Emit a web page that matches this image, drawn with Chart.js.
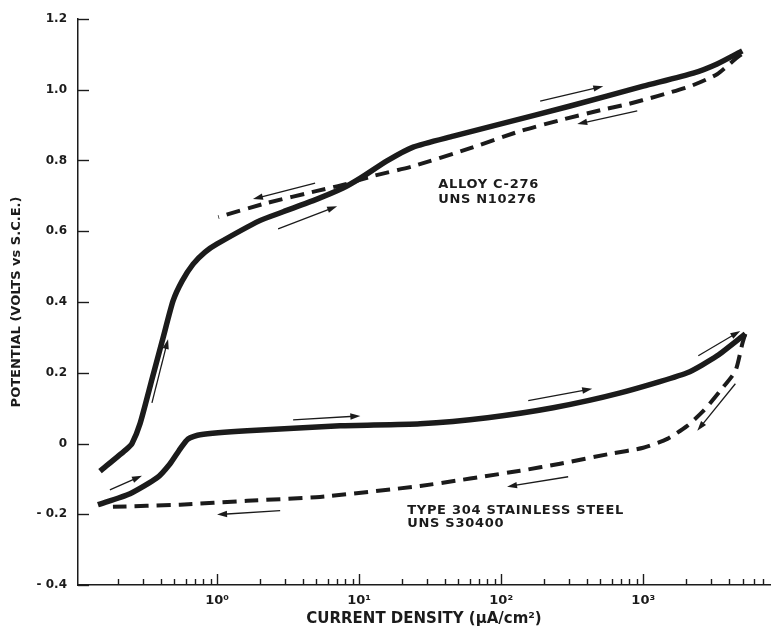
<!DOCTYPE html>
<html>
<head>
<meta charset="utf-8">
<script src="https://cdn.jsdelivr.net/npm/chart.js@4/dist/chart.umd.min.js"></script>
<style>
  body { margin: 0; background: #ffffff; }
  #wrap { width: 779px; height: 628px; }
</style>
</head>
<body>
<div id="wrap"><canvas id="chart_polar" width="779" height="628"></canvas></div>
<script>
// ---- data (current density uA/cm2, potential V vs SCE) ----
var alloyFwdX = [0.150, 0.232, 0.252, 0.287, 0.349, 0.417, 0.49, 0.567, 0.678, 0.823, 1.0, 2.0, 2.92, 5.0, 7.7, 10.2, 15.7, 24, 46, 98, 306, 1000, 2250, 3310, 4980];
var alloyFwdY = [-0.078, -0.015, 0.0, 0.056, 0.183, 0.299, 0.403, 0.459, 0.507, 0.541, 0.564, 0.63, 0.655, 0.69, 0.722, 0.75, 0.799, 0.838, 0.869, 0.903, 0.954, 1.01, 1.047, 1.073, 1.11];

var alloyRevX = [4900, 4450, 3310, 2143, 1256, 771, 498, 260, 136, 57.7, 24, 12.5, 8.2, 5.06, 2.25, 1.02];
var alloyRevY = [1.10, 1.087, 1.044, 1.01, 0.982, 0.959, 0.942, 0.914, 0.883, 0.832, 0.784, 0.756, 0.734, 0.714, 0.68, 0.64];

var steelFwdX = [0.145, 0.244, 0.378, 0.467, 0.55, 0.625, 0.76, 1.63, 7.35, 26.9, 80, 232, 689, 2040, 3310, 5230];
var steelFwdY = [-0.173, -0.142, -0.097, -0.057, -0.015, 0.013, 0.025, 0.036, 0.05, 0.056, 0.073, 0.101, 0.143, 0.2, 0.248, 0.31];

var steelRevX = [5230, 4980, 4450, 3480, 2650, 2040, 1476, 1000, 586, 260, 136, 26.9, 5.3, 1.63, 0.55, 0.185];
var steelRevY = [0.31, 0.282, 0.205, 0.149, 0.092, 0.05, 0.013, -0.012, -0.029, -0.057, -0.077, -0.12, -0.151, -0.162, -0.173, -0.179];

// scan direction arrows: tail and head, in data units
var arrowTails = [[0.348, 0.115], [0.176, -0.131], [2.69, 0.607], [4.9, 0.736], [188, 0.968], [907, 0.940],
                  [3.43, 0.067], [155, 0.121], [2440, 0.248], [4450, 0.169], [296, -0.094], [2.78, -0.19]];
var arrowHeads = [[0.452, 0.295], [0.296, -0.091], [7.0, 0.671], [1.79, 0.691], [523, 1.01], [343, 0.903],
                  [10.2, 0.078], [437, 0.155], [4820, 0.318], [2400, 0.036], [110, -0.122], [1.0, -0.201]];

var curveNotes = [
    { x: 36, y: 0.731, text: "ALLOY C-276" },
    { x: 36, y: 0.690, text: "UNS N10276" },
    { x: 21.8, y: -0.190, text: "TYPE 304 STAINLESS STEEL" },
    { x: 21.8, y: -0.227, text: "UNS S30400" }
];

var yTickValues = [-0.4, -0.2, 0, 0.2, 0.4, 0.6, 0.8, 1.0, 1.2];
var xDecadeLabels = { 1: "10\u2070", 10: "10\u00b9", 100: "10\u00b2", 1000: "10\u00b3" };

var InkColor = "#1b1b1b";

function toPoints(xs, ys) {
    var pts = [];
    for (var i = 0; i < xs.length; i++) { pts.push({ x: xs[i], y: ys[i] }); }
    return pts;
}

function drawArrow(ctx, x1, y1, x2, y2) {
    var a = Math.atan2(y2 - y1, x2 - x1);
    ctx.beginPath();
    ctx.moveTo(x1, y1);
    ctx.lineTo(x2 - 6 * Math.cos(a), y2 - 6 * Math.sin(a));
    ctx.stroke();
    ctx.beginPath();
    ctx.moveTo(x2, y2);
    ctx.lineTo(x2 - 10 * Math.cos(a) + 3.2 * Math.sin(a), y2 - 10 * Math.sin(a) - 3.2 * Math.cos(a));
    ctx.lineTo(x2 - 10 * Math.cos(a) - 3.2 * Math.sin(a), y2 - 10 * Math.sin(a) + 3.2 * Math.cos(a));
    ctx.closePath();
    ctx.fill();
}

// inward tick marks, arrows and curve names
var overlayPlugin = {
    id: "overlay",
    afterDraw: function (chart) {
        var ctx = chart.ctx, xs = chart.scales.x, ys = chart.scales.y, area = chart.chartArea;
        ctx.save();
        ctx.strokeStyle = InkColor;
        ctx.fillStyle = InkColor;
        ctx.lineWidth = 1.4;
        // x ticks (log decades)
        for (var e = -1; e <= 3; e++) {
            for (var m = 1; m <= 9; m++) {
                var v = m * Math.pow(10, e);
                if (v <= xs.min * 1.01 || v >= xs.max) { continue; }
                var px = Math.round(xs.getPixelForValue(v)) + 0.5;
                var len = (m === 1) ? 11 : 6;
                ctx.beginPath();
                ctx.moveTo(px, area.bottom);
                ctx.lineTo(px, area.bottom - len);
                ctx.stroke();
            }
        }
        // y ticks
        for (var i = 0; i < yTickValues.length; i++) {
            var py = Math.round(ys.getPixelForValue(yTickValues[i])) + 0.5;
            ctx.beginPath();
            ctx.moveTo(area.left, py);
            ctx.lineTo(area.left + 11, py);
            ctx.stroke();
        }
        // arrows
        ctx.lineWidth = 1.3;
        for (var k = 0; k < arrowTails.length; k++) {
            drawArrow(ctx,
                xs.getPixelForValue(arrowTails[k][0]), ys.getPixelForValue(arrowTails[k][1]),
                xs.getPixelForValue(arrowHeads[k][0]), ys.getPixelForValue(arrowHeads[k][1]));
        }
        // labels
        ctx.font = "bold 13px 'DejaVu Sans'";
        ctx.letterSpacing = "0.7px";
        ctx.textAlign = "left";
        ctx.textBaseline = "middle";
        for (var n = 0; n < curveNotes.length; n++) {
            ctx.fillText(curveNotes[n].text, xs.getPixelForValue(curveNotes[n].x), ys.getPixelForValue(curveNotes[n].y));
        }
        ctx.restore();
    }
};

function DrawPolarization() {
    try {
        Chart.defaults.font.family = "'DejaVu Sans', sans-serif";
        Chart.defaults.color = InkColor;
        new Chart(document.getElementById("chart_polar"), {
            type: "line",
            data: {
                datasets: [
                    { label: "C-276 forward", data: toPoints(alloyFwdX, alloyFwdY), borderColor: InkColor, borderWidth: 5.5, tension: 0.2 },
                    { label: "C-276 reverse", data: toPoints(alloyRevX, alloyRevY), borderColor: InkColor, borderWidth: 4, borderDash: [14, 8], tension: 0.2 },
                    { label: "304 forward", data: toPoints(steelFwdX, steelFwdY), borderColor: InkColor, borderWidth: 5.5, tension: 0.2 },
                    { label: "304 reverse", data: toPoints(steelRevX, steelRevY), borderColor: InkColor, borderWidth: 4, borderDash: [14, 8], tension: 0.2 }
                ]
            },
            options: {
                responsive: false,
                animation: false,
                layout: { padding: { top: 19, right: 9, left: 0, bottom: 0 } },
                elements: { point: { radius: 0 }, line: { fill: false, borderCapStyle: "butt" } },
                plugins: { legend: { display: false }, tooltip: { enabled: false } },
                scales: {
                    x: {
                        type: "logarithmic",
                        min: 0.105,
                        max: 7800,
                        afterFit: function (s) { s.height = 43; },
                        grid: { display: false },
                        border: { display: true, color: InkColor, width: 1.5 },
                        ticks: {
                            autoSkip: false,
                            maxRotation: 0,
                            padding: 0,
                            font: { size: 13, weight: "bold" },
                            callback: function (v) {
                                for (var key in xDecadeLabels) {
                                    if (Math.abs(v - Number(key)) < 1e-6 * Number(key)) { return xDecadeLabels[key]; }
                                }
                                return "";
                            }
                        },
                        title: {
                            display: true,
                            text: "CURRENT DENSITY (\u03bcA/cm\u00b2)",
                            font: { size: 15, weight: "bold" },
                            padding: { top: 0, bottom: 0 }
                        }
                    },
                    y: {
                        min: -0.4,
                        max: 1.2,
                        afterFit: function (s) { s.width = 78; },
                        grid: { display: false },
                        border: { display: true, color: InkColor, width: 1.5 },
                        ticks: {
                            stepSize: 0.2,
                            padding: 3,
                            font: { size: 12, weight: "bold" },
                            callback: function (v) {
                                var r = Math.round(v * 10) / 10;
                                if (r === 0) { return "0"; }
                                if (r < 0) { return "- " + Math.abs(r).toFixed(1); }
                                return r.toFixed(1);
                            }
                        },
                        title: {
                            display: true,
                            text: "POTENTIAL (VOLTS vs S.C.E.)",
                            font: { size: 13, weight: "bold" },
                            padding: { top: 9, bottom: 0 }
                        }
                    }
                }
            },
            plugins: [overlayPlugin]
        });
    }
    catch (e) {
        console.log("chart error: " + e.message);
    }
}

DrawPolarization();
</script>
</body>
</html>
